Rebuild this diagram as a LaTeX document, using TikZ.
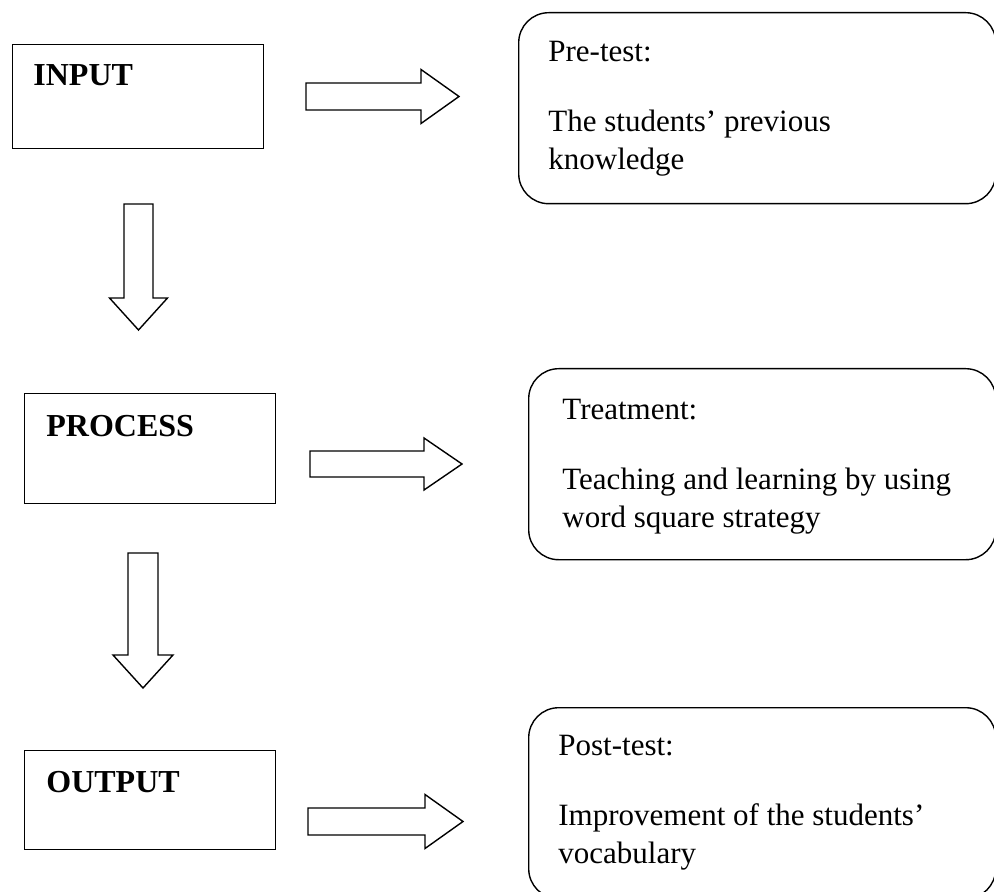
\documentclass[tikz,border=0pt]{standalone}
\usepackage{fontspec}
\setmainfont{Liberation Serif}
\usetikzlibrary{calc}
\tikzset{
  mainbox/.style={draw, line width=0.7pt, rectangle, anchor=north west,
    inner sep=0pt, minimum width=125.5pt},
  roundbox/.style={draw, line width=0.7pt, rectangle, rounded corners=15pt,
    anchor=north west, inner sep=0pt, minimum width=233.5pt, minimum height=95.5pt},
  headtext/.style={anchor=base west, inner sep=0pt,
    font=\fontsize{16}{19}\selectfont\bfseries},
  bodytext/.style={anchor=base west, inner sep=0pt, align=left,
    font=\fontsize{15.5}{19}\selectfont},
  arrowline/.style={draw, line width=0.7pt, line join=miter},
  pics/blockarrow/.style args={#1/#2/#3}{code={
    \draw[arrowline] (0,-#3) -- ({#1-#2},-#3) -- ({#1-#2},{-2*#3}) -- (#1,0)
      -- ({#1-#2},{2*#3}) -- ({#1-#2},#3) -- (0,#3) -- cycle;
  }}
}
\begin{document}
\begin{tikzpicture}[x=0.5pt,y=-0.5pt]
  \useasboundingbox (0,0) rectangle (994,892);
  % left column
  \node[mainbox, minimum height=52pt] (input) at (12,44) {};
  \node[headtext] (inputtxt) at ($(input.north west)+(21,42)$) {INPUT};
  \node[mainbox, minimum height=55pt] (process) at (24,393) {};
  \node[headtext] (processtxt) at ($(process.north west)+(22,44)$) {PROCESS};
  \node[mainbox, minimum height=49.5pt] (output) at (24,750) {};
  \node[headtext] (outputtxt) at ($(output.north west)+(22,42)$) {OUTPUT};
  % right column (base = last line)
  \node[roundbox, minimum width=238.5pt] (pretest) at (518,12) {};
  \node[bodytext] (pretesttxt) at ($(pretest.north west)+(30,158)$)
    {Pre-test:\\[16pt]The students' previous\\knowledge};
  \node[roundbox] (treatment) at (528,368) {};
  \node[bodytext] (treatmenttxt) at ($(treatment.north west)+(34,159)$)
    {Treatment:\\[16pt]Teaching and learning by using\\word square strategy};
  \node[roundbox] (posttest) at (528,707) {};
  \node[bodytext] (posttesttxt) at ($(posttest.north west)+(30,156)$)
    {Post-test:\\[16pt]Improvement of the students'\\vocabulary};
  % block arrows
  \pic at (306,96.5) {blockarrow=153/38/13.5};
  \pic at (310,464) {blockarrow=152/38/13};
  \pic at (308,821.5) {blockarrow=155/38/13.5};
  \pic[rotate=-90] at (138.5,204) {blockarrow=126/32/14.5};
  \pic[rotate=-90] at (143,553) {blockarrow=135/33/15};
\end{tikzpicture}
\end{document}
